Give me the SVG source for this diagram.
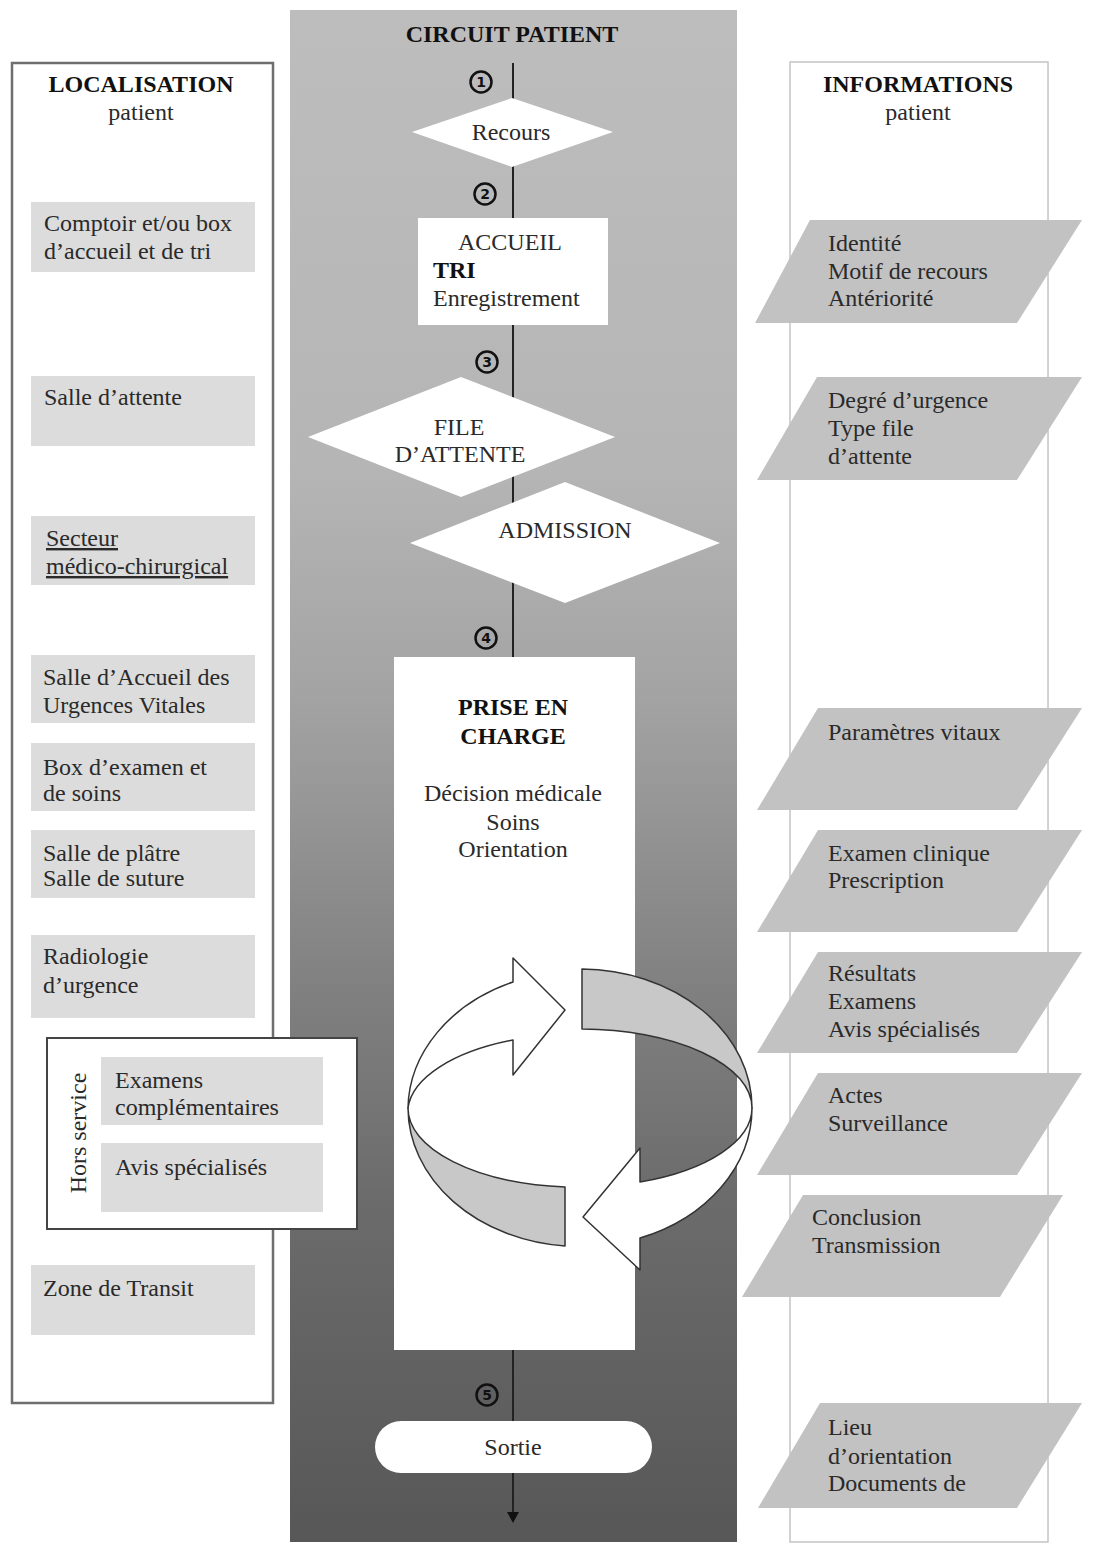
<svg xmlns="http://www.w3.org/2000/svg" width="1104" height="1560" viewBox="0 0 1104 1560">
<defs>
<linearGradient id="colg" x1="0" y1="0" x2="0" y2="1">
<stop offset="0" stop-color="#bdbdbd"/>
<stop offset="0.3" stop-color="#b5b5b5"/>
<stop offset="0.45" stop-color="#a3a3a3"/>
<stop offset="0.64" stop-color="#808080"/>
<stop offset="0.78" stop-color="#6b6b6b"/>
<stop offset="1" stop-color="#575757"/>
</linearGradient>
<style>
.t{font-family:"Liberation Serif","Times New Roman",serif;font-size:24px;fill:#2a2a2a}
.b{font-weight:bold;fill:#111}
.m{text-anchor:middle}
.gbox{fill:#dcdcdc}
.para{fill:#c2c2c2}
.wh{fill:#ffffff}
.ring{stroke:#333;stroke-width:1.5;stroke-linejoin:round}
.num{fill:none;stroke:#111;stroke-width:2.5}
.nt{font-family:"DejaVu Sans",sans-serif;font-size:14px;font-weight:bold;fill:#111;text-anchor:middle}
</style>
</defs>
<rect x="0" y="0" width="1104" height="1560" fill="#ffffff"/>

<!-- Central column -->
<g id="circuit-column">
<rect x="290" y="10" width="447" height="1532" fill="url(#colg)"/>
<text class="t b m" x="512" y="42">CIRCUIT PATIENT</text>
</g>

<!-- Left column frame -->
<g id="localisation">
<rect x="12" y="63" width="261" height="1340" fill="#ffffff" stroke="#6e6e6e" stroke-width="2.5"/>
<text class="t b m" x="141" y="92">LOCALISATION</text>
<text class="t m" x="141" y="120">patient</text>
</g>

<!-- Right column frame -->
<g id="informations">
<rect x="790" y="62" width="258" height="1480" fill="#ffffff" stroke="#c4c4c4" stroke-width="1.5"/>
<text class="t b m" x="918" y="92">INFORMATIONS</text>
<text class="t m" x="918" y="120">patient</text>
</g>

<!-- Connectors -->
<g id="connectors">
<line x1="513" y1="63" x2="513" y2="1512" stroke="#222" stroke-width="2"/>
<polygon points="507,1512 519,1512 513,1523" fill="#111"/>
</g>

<!-- Step numbers -->
<g id="step-numbers">
<circle class="num" cx="481" cy="82" r="10.5"/><text class="nt" x="481" y="87">1</text>
<circle class="num" cx="485" cy="194" r="10.5"/><text class="nt" x="485" y="199">2</text>
<circle class="num" cx="487" cy="362" r="10.5"/><text class="nt" x="487" y="367">3</text>
<circle class="num" cx="486" cy="638" r="10.5"/><text class="nt" x="486" y="643">4</text>
<circle class="num" cx="487" cy="1395" r="10.5"/><text class="nt" x="487" y="1400">5</text>
</g>

<g id="recours">
<polygon class="wh" points="412,132 512,98 613,132 512,167"/>
<text class="t m" x="511" y="140">Recours</text>
</g>

<g id="accueil">
<rect class="wh" x="418" y="218" width="190" height="107"/>
<text class="t m" x="510" y="250">ACCUEIL</text>
<text class="t b" x="433" y="278">TRI</text>
<text class="t" x="433" y="306">Enregistrement</text>
</g>

<g id="file-attente">
<polygon class="wh" points="308,437 461,377 615,437 461,497"/>
<text class="t m" x="459" y="435">FILE</text>
<text class="t m" x="460" y="462">D’ATTENTE</text>
</g>

<g id="admission">
<polygon class="wh" points="410,543 565,482 720,543 565,603"/>
<text class="t m" x="565" y="538">ADMISSION</text>
</g>

<g id="prise-en-charge">
<rect class="wh" x="394" y="657" width="241" height="693"/>
<text class="t b m" x="513" y="715">PRISE EN</text>
<text class="t b m" x="513" y="744">CHARGE</text>
<text class="t m" x="513" y="801">Décision médicale</text>
<text class="t m" x="513" y="830">Soins</text>
<text class="t m" x="513" y="857">Orientation</text>
</g>

<g id="cycle-arrows">
<path class="ring" fill="#c8c8c8" d="M 408 1108 A 172 139 0 0 0 565 1246 L 565 1187 A 172 79 0 0 1 408 1108 Z"/>
<path class="ring" fill="#c8c8c8" d="M 582 969 A 172 139 0 0 1 752 1108 A 172 79 0 0 0 582 1029 Z"/>
<path class="ring" fill="#ffffff" d="M 408 1108 A 172 139 0 0 1 513 982 L 513 958 L 565 1010 L 513 1075 L 513 1040 A 172 79 0 0 0 408 1108 Z"/>
<path class="ring" fill="#ffffff" d="M 752 1108 A 172 139 0 0 1 640 1238 L 640 1270 L 583 1217 L 640 1148 L 640 1182 A 172 79 0 0 0 752 1108 Z"/>
</g>

<g id="sortie">
<rect class="wh" x="375" y="1421" width="277" height="52" rx="26" ry="26"/>
<text class="t m" x="513" y="1455">Sortie</text>
</g>

<!-- Left localisation boxes -->
<g id="loc-comptoir">
<rect class="gbox" x="31" y="202" width="224" height="70"/>
<text class="t" x="44" y="231">Comptoir et/ou box</text>
<text class="t" x="44" y="259">d’accueil et de tri</text>
</g>
<g id="loc-salle-attente">
<rect class="gbox" x="31" y="376" width="224" height="70"/>
<text class="t" x="44" y="405">Salle d’attente</text>
</g>
<g id="loc-secteur">
<rect class="gbox" x="31" y="516" width="224" height="69"/>
<text class="t" x="46" y="546" text-decoration="underline">Secteur</text>
<text class="t" x="46" y="574" text-decoration="underline">médico-chirurgical</text>
</g>
<g id="loc-sauv">
<rect class="gbox" x="31" y="655" width="224" height="68"/>
<text class="t" x="43" y="685">Salle d’Accueil des</text>
<text class="t" x="43" y="713">Urgences Vitales</text>
</g>
<g id="loc-box-examen">
<rect class="gbox" x="31" y="743" width="224" height="68"/>
<text class="t" x="43" y="775">Box d’examen et</text>
<text class="t" x="43" y="801">de soins</text>
</g>
<g id="loc-platre">
<rect class="gbox" x="31" y="830" width="224" height="68"/>
<text class="t" x="43" y="861">Salle de plâtre</text>
<text class="t" x="43" y="886">Salle de suture</text>
</g>
<g id="loc-radiologie">
<rect class="gbox" x="31" y="935" width="224" height="83"/>
<text class="t" x="43" y="964">Radiologie</text>
<text class="t" x="43" y="993">d’urgence</text>
</g>
<g id="loc-hors-service">
<rect x="47" y="1038" width="310" height="191" fill="#ffffff" stroke="#444" stroke-width="2"/>
<text class="t" transform="translate(86,1133) rotate(-90)" text-anchor="middle">Hors service</text>
<rect class="gbox" x="101" y="1057" width="222" height="68"/>
<text class="t" x="115" y="1088">Examens</text>
<text class="t" x="115" y="1115">complémentaires</text>
<rect class="gbox" x="101" y="1143" width="222" height="69"/>
<text class="t" x="115" y="1175">Avis spécialisés</text>
</g>
<g id="loc-transit">
<rect class="gbox" x="31" y="1265" width="224" height="70"/>
<text class="t" x="43" y="1296">Zone de Transit</text>
</g>

<!-- Right information parallelograms -->
<g id="info-identite">
<polygon class="para" points="810,220 1082,220 1017,323 755,323"/>
<text class="t" x="828" y="251">Identité</text>
<text class="t" x="828" y="279">Motif de recours</text>
<text class="t" x="828" y="306">Antériorité</text>
</g>
<g id="info-degre">
<polygon class="para" points="817,377 1082,377 1017,480 757,480"/>
<text class="t" x="828" y="408">Degré d’urgence</text>
<text class="t" x="828" y="436">Type file</text>
<text class="t" x="828" y="464">d’attente</text>
</g>
<g id="info-parametres">
<polygon class="para" points="818,708 1082,708 1017,810 757,810"/>
<text class="t" x="828" y="740">Paramètres vitaux</text>
</g>
<g id="info-examen">
<polygon class="para" points="818,830 1082,830 1017,932 757,932"/>
<text class="t" x="828" y="861">Examen clinique</text>
<text class="t" x="828" y="888">Prescription</text>
</g>
<g id="info-resultats">
<polygon class="para" points="818,952 1082,952 1017,1053 757,1053"/>
<text class="t" x="828" y="981">Résultats</text>
<text class="t" x="828" y="1009">Examens</text>
<text class="t" x="828" y="1037">Avis spécialisés</text>
</g>
<g id="info-actes">
<polygon class="para" points="818,1073 1082,1073 1017,1175 757,1175"/>
<text class="t" x="828" y="1103">Actes</text>
<text class="t" x="828" y="1131">Surveillance</text>
</g>
<g id="info-conclusion">
<polygon class="para" points="803,1195 1063,1195 1000,1297 742,1297"/>
<text class="t" x="812" y="1225">Conclusion</text>
<text class="t" x="812" y="1253">Transmission</text>
</g>
<g id="info-lieu">
<polygon class="para" points="820,1403 1082,1403 1017,1508 758,1508"/>
<text class="t" x="828" y="1435">Lieu</text>
<text class="t" x="828" y="1464">d’orientation</text>
<text class="t" x="828" y="1491">Documents de</text>
</g>
</svg>
